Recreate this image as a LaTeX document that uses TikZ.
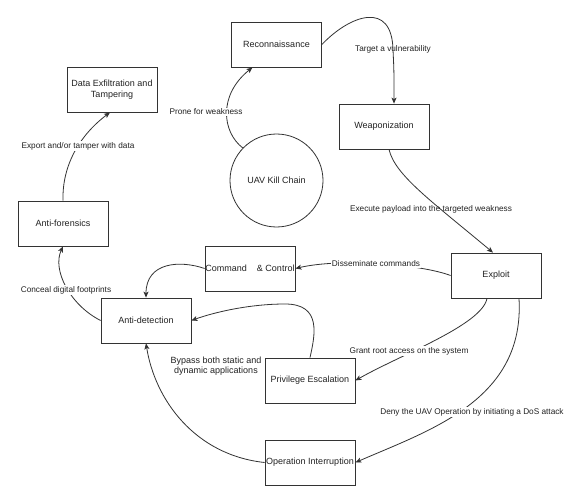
\documentclass[tikz,border=0pt]{standalone}
\usepackage{fontspec}
\setmainfont{Liberation Sans}
\usetikzlibrary{arrows.meta,calc}
\definecolor{ln}{HTML}{333333}
\definecolor{tx}{HTML}{222222}
\begin{document}
\begin{tikzpicture}[x=1pt,y=-1pt,
  box/.style={draw=ln, line width=0.8pt, minimum width=90pt, minimum height=45pt, inner sep=0pt, font=\fontsize{9}{10.5}\selectfont, text=tx, align=center},
  circ/.style={draw=ln, line width=0.8pt, circle, minimum size=93pt, inner sep=0pt, font=\fontsize{9}{10.5}\selectfont, text=tx},
  conn/.style={draw=ln, line width=0.8pt, -{Stealth[length=6pt,width=5pt,inset=1.5pt]}},
  lbl/.style={fill=white, inner sep=1pt, font=\fontsize{8.25}{9.5}\selectfont, text=tx},
  lblclear/.style={inner sep=1pt, font=\fontsize{8.25}{9.5}\selectfont, text=tx},
  lblbig/.style={fill=white, inner sep=1pt, font=\fontsize{9}{10.5}\selectfont, text=tx, align=center}
]
\useasboundingbox (0,0) rectangle (581,492);
\fill[white] (0,0) rectangle (581,492);

% nodes
\node[box] (recon) at (276.5,44.5) {Reconnaissance};
\node[box] (de) at (112,89.5) {Data Exfiltration and\\Tampering};
\node[box] (af) at (63,223.5) {Anti-forensics};
\node[circ] (uav) at (276.5,180.5) {UAV Kill Chain};
\node[box] (weap) at (384,126.5) {Weaponization};
\node[box] (cc) at (250,268.5) {Command\ \ \ \ \& Control};
\node[box] (antid) at (146,320.5) {Anti-detection};
\node[box] (pe) at (310,380.5) {Privilege Escalation};
\node[box] (oi) at (310,462.5) {Operation Interruption};
\node[box] (exploit) at (496,275.5) {Exploit};

% helper coordinates
\coordinate (reconin) at ($(recon.south)+(-24,0)$);
\coordinate (weapin) at ($(weap.north)+(10,0)$);
\coordinate (weapout) at ($(weap.south)+(5,0)$);
\coordinate (exin) at ($(exploit.north)+(-3,0)$);
\coordinate (exout1) at ($(exploit.south)+(-9,0)$);
\coordinate (exout2) at ($(exploit.south)+(23,0)$);
\coordinate (dein) at ($(de.south)+(-2,0)$);

% connectors
\draw[conn] (uav.136) .. controls (222,132) and (218,95) .. (reconin);
\draw[conn] (recon.east) .. controls (350,15) and (392,0) .. (393,50) .. controls (394,70) .. (weapin);
\draw[conn] (weapout) .. controls (395,175) and (430,200) .. (exin);
\draw[conn] (exploit.west) .. controls (420,264) and (340,258) .. (cc.east);
\draw[conn] (exout1) .. controls (482,325) and (400,355) .. (pe.east);
\draw[conn] (exout2) .. controls (525,400) and (430,430) .. (oi.east);
\draw[conn] (pe.north) .. controls (315,335) and (322,304) .. (285,304) .. controls (250,304) and (215,312) .. (antid.east);
\draw[conn] (oi.west) .. controls (195,455) and (155,400) .. (antid.south);
\draw[conn] (cc.west) .. controls (180,260) and (146,262) .. (antid.north);
\draw[conn] (antid.west) .. controls (70,305) and (52,270) .. (af.south);
\draw[conn] (af.north) .. controls (62,165) and (80,135) .. (dein);

% labels
\node[lbl] (l1) at (206,112) {Prone for weakness};
\node[lblclear] (l2) at (393,49) {Target a vulnerability};
\node[lblclear] (l3) at (431,209) {Execute payload into the targeted weakness};
\node[lbl] (l4) at (376,264) {Disseminate commands};
\node[lbl] (l5) at (409,351) {Grant root access on the system};
\node[lbl] (l6) at (472,412) {Deny the UAV Operation by initiating a DoS attack};
\node[lblbig] (l7) at (216,366) {Bypass both static and\\dynamic applications};
\node[lbl] (l8) at (66,290) {Conceal digital footprints};
\node[lbl] (l9) at (78,146) {Export and/or tamper with data};
\end{tikzpicture}
\end{document}
